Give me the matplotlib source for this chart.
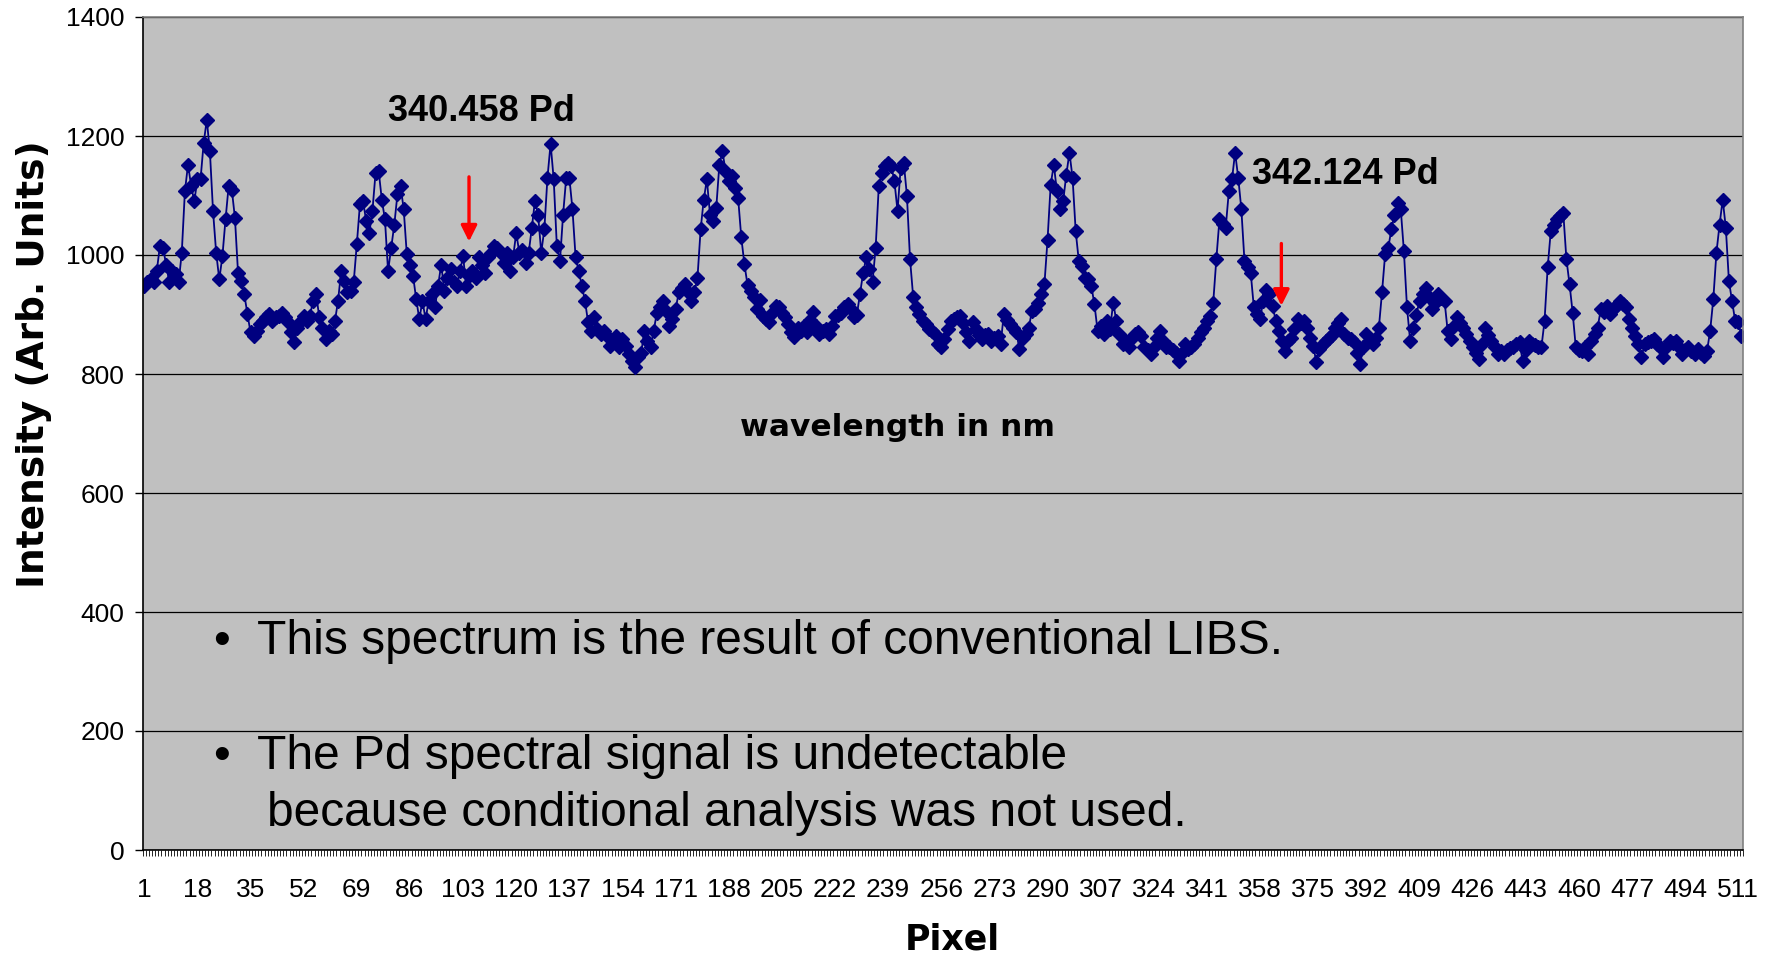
# -*- coding: utf-8 -*-
"""
LIBS spectrum plot - intensity vs pixel
"""
#Imports
from matplotlib import pyplot as plt
from matplotlib import rcParams
import numpy as np

#Changing Font of Plot
rcParams['font.family'] = 'sans-serif'
rcParams['font.sans-serif'] = ['Liberation Sans', 'DejaVu Sans']

#Data (pixel 1..512)
intensity = [
    948, 954, 959, 954, 973, 1015, 1012, 984, 954, 973, 968, 954, 1004, 1107, 1152, 1116, 1090, 1127, 1127, 1188,
    1227, 1174, 1074, 1004, 959, 998, 1060, 1116, 1110, 1063, 970, 956, 934, 901, 870, 864, 873, 884, 889, 895,
    901, 889, 895, 898, 903, 895, 887, 870, 853, 878, 889, 898, 889, 898, 923, 934, 895, 878, 859, 873,
    867, 889, 923, 973, 956, 937, 940, 954, 1018, 1085, 1091, 1057, 1037, 1074, 1138, 1141, 1093, 1060, 973, 1012,
    1051, 1102, 1116, 1077, 1001, 984, 965, 926, 892, 923, 892, 923, 934, 912, 948, 984, 940, 962, 976, 954,
    948, 973, 998, 948, 965, 973, 962, 996, 984, 970, 996, 1004, 1015, 1012, 1004, 987, 1004, 973, 996, 1037,
    1004, 1009, 987, 1004, 1046, 1091, 1068, 1004, 1043, 1130, 1187, 1127, 1015, 990, 1068, 1130, 1130, 1077, 996, 973,
    948, 923, 887, 873, 895, 875, 867, 873, 864, 847, 856, 864, 845, 859, 847, 834, 822, 811, 828, 836,
    873, 856, 845, 873, 903, 912, 923, 906, 881, 892, 909, 937, 945, 951, 937, 923, 937, 962, 1043, 1093,
    1127, 1068, 1057, 1079, 1152, 1174, 1140, 1124, 1132, 1113, 1096, 1030, 985, 950, 940, 930, 910, 925, 898, 892,
    888, 905, 915, 912, 903, 895, 884, 870, 862, 878, 872, 880, 870, 890, 905, 880, 867, 872, 875, 868,
    880, 898, 900, 903, 912, 917, 910, 895, 900, 935, 970, 996, 976, 955, 1012, 1116, 1138, 1149, 1155, 1150,
    1124, 1074, 1146, 1155, 1100, 993, 930, 912, 901, 889, 884, 875, 872, 867, 850, 845, 859, 875, 889, 893,
    895, 898, 885, 870, 856, 887, 875, 865, 859, 865, 867, 856, 860, 864, 850, 901, 890, 884, 878, 870,
    842, 860, 867, 878, 906, 909, 920, 935, 951, 1026, 1118, 1152, 1107, 1077, 1091, 1135, 1172, 1130, 1040, 990,
    982, 962, 959, 948, 917, 873, 880, 867, 889, 875, 920, 889, 867, 850, 855, 845, 860, 867, 870, 864,
    845, 840, 834, 845, 860, 873, 855, 845, 845, 840, 836, 822, 835, 850, 842, 845, 850, 861, 870, 878,
    889, 898, 920, 993, 1060, 1052, 1046, 1107, 1127, 1172, 1130, 1077, 990, 980, 970, 912, 901, 892, 923, 942,
    934, 915, 889, 873, 856, 839, 856, 861, 875, 892, 885, 889, 878, 860, 847, 820, 842, 850, 856, 861,
    865, 878, 885, 892, 867, 861, 858, 853, 835, 817, 845, 867, 856, 850, 860, 878, 937, 1001, 1012, 1043,
    1068, 1088, 1077, 1007, 912, 856, 878, 900, 923, 934, 945, 930, 909, 920, 934, 928, 923, 873, 859, 880,
    895, 885, 878, 867, 855, 845, 835, 825, 850, 878, 865, 856, 845, 834, 838, 834, 840, 843, 845, 850,
    853, 822, 840, 856, 850, 848, 845, 845, 889, 979, 1040, 1051, 1060, 1065, 1071, 993, 951, 903, 845, 840,
    839, 845, 834, 856, 867, 878, 909, 905, 915, 901, 910, 915, 923, 918, 912, 892, 878, 864, 850, 828,
    850, 853, 856, 859, 850, 845, 828, 845, 856, 852, 856, 845, 834, 840, 845, 838, 834, 842, 835, 831,
    839, 873, 926, 1004, 1051, 1093, 1046, 956, 923, 889, 887, 864,
]
pixel = np.arange(1, len(intensity) + 1)

xtick_labels = [1, 18, 35, 52, 69, 86, 103, 120, 137, 154, 171, 188, 205, 222, 239, 256,
                273, 290, 307, 324, 341, 358, 375, 392, 409, 426, 443, 460, 477, 494, 511]
yticks = [0, 200, 400, 600, 800, 1000, 1200, 1400]

peak_names = ['340.458 Pd', '342.124 Pd']

bullets = ['This spectrum is the result of conventional LIBS.',
           'The Pd spectral signal is undetectable',
           'because conditional analysis was not used.']

#Plotting
W, H = 1773, 957
fig = plt.figure(figsize=(W / 100, H / 100), dpi=100)
a = fig.add_axes([142.7 / W, 1 - 850 / H, (1743 - 142.7) / W, (850 - 17) / H])
a.set_facecolor('#C0C0C0')

# Grid
a.set_axisbelow(True)
a.grid(axis='y', color='black', linewidth=0.9)

# The Plot
a.plot(pixel, intensity, '-', color='#000080', linewidth=1.3,
       marker='D', markersize=7, markerfacecolor='#000080', markeredgecolor='#000080')

# Axis limits
a.set_xlim(0.5, len(intensity) + 0.5)
a.set_ylim(0, 1400)

# Border
a.spines['left'].set_color('black')
a.spines['bottom'].set_color('black')
a.spines['top'].set_color('#808080')
a.spines['right'].set_color('#808080')
for s in a.spines.values():
    s.set_linewidth(1.2)

# Ticks
a.set_yticks(yticks)
a.set_yticklabels([str(v) for v in yticks], fontsize=19)
a.tick_params(axis='y', direction='out', length=6, width=1, pad=7, colors='black')
a.set_xticks(xtick_labels)
a.set_xticklabels([str(v) for v in xtick_labels], fontsize=19)
a.tick_params(axis='x', which='major', length=0, pad=20)
a.set_xticks(np.arange(0.5, len(intensity) + 1, 1), minor=True)
a.tick_params(axis='x', which='minor', direction='out', length=4.5, width=0.6, colors='black')

# Labels
fig.text(34 / W, 1 - 364 / H, 'Intensity (Arb. Units)', rotation=90, ha='center', va='center',
         fontsize=27, fontweight='bold', family='DejaVu Sans')
fig.text(952 / W, 1 - 950 / H, 'Pixel', ha='center', va='baseline',
         fontsize=25, fontweight='bold', family='DejaVu Sans')
a.text(242, 710, 'wavelength in nm', ha='center', va='center',
       fontsize=22.5, fontweight='bold', family='DejaVu Sans')

# Peak annotations
a.text(108.8, 1241, peak_names[0], ha='center', va='center', fontsize=26, fontweight='bold')
a.text(385.3, 1136, peak_names[1], ha='center', va='center', fontsize=26, fontweight='bold')
a.annotate('', xy=(104.9, 1018), xytext=(104.9, 1136),
           arrowprops=dict(arrowstyle='-|>', color='red', lw=2.4, mutation_scale=24))
a.annotate('', xy=(364.8, 910), xytext=(364.8, 1024),
           arrowprops=dict(arrowstyle='-|>', color='red', lw=2.4, mutation_scale=24))

# Bullet text
fig.text(213 / W, 1 - 654 / H, '\u2022', fontsize=34.5, va='baseline')
fig.text(257 / W, 1 - 654 / H, bullets[0], fontsize=34.5, va='baseline')
fig.text(213 / W, 1 - 769 / H, '\u2022', fontsize=34.5, va='baseline')
fig.text(257 / W, 1 - 769 / H, bullets[1], fontsize=34.5, va='baseline')
fig.text(267 / W, 1 - 826 / H, bullets[2], fontsize=34.5, va='baseline')

#Save Figure
fig.savefig('out.png', dpi=100)
